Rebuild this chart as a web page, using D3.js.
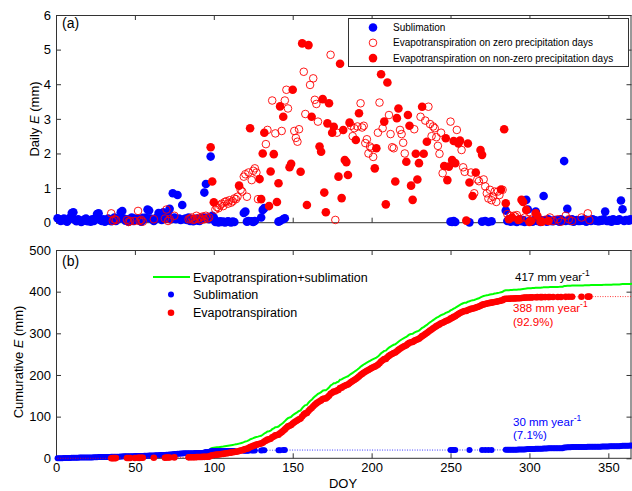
<!DOCTYPE html>
<meta charset="utf-8">
<html>
<head>
<style>
  body { margin: 0; background: #fff; }
  svg text { font-family: "Liberation Sans", Arial, sans-serif; }
  .domain { display: none; }
</style>
<script src="https://d3js.org/d3.v7.min.js"></script>
</head>
<body>
<svg width="632" height="491"></svg>
<script>

// daily sublimation, [DOY, mm]
var sublimation = [
  [1,.13],[2,.10],[3,.05],[4,.08],[5,.12],[6,.06],[7,.03],[8,.10],[9,.15],[10,.28],
  [11,.30],[12,.08],[13,.04],[14,.10],[15,.06],[16,.02],[17,.05],[18,.09],[19,.12],[20,.04],
  [21,.07],[22,.03],[23,.10],[24,.05],[25,.12],[26,.25],[27,.27],[28,.08],[29,.05],[30,.10],
  [31,.03],[32,.06],[33,.12],[34,.08],[35,.04],[36,.10],[37,.15],[38,.05],[39,.10],[40,.12],
  [41,.30],[42,.34],[43,.12],[44,.06],[45,.10],[46,.03],[47,.08],[48,.15],[49,.05],[50,.12],
  [51,.09],[52,.12],[53,.06],[54,.03],[55,.14],[56,.10],[57,.15],[58,.38],[59,.35],[60,.12],
  [61,.10],[62,.05],[63,.12],[64,.15],[65,.28],[66,.15],[67,.08],[68,.30],[69,.12],[70,.12],
  [71,.30],[72,.40],[73,.10],[74,.85],[75,.15],[76,.10],[77,.80],[78,.12],[79,.08],[80,.51],
  [81,.10],[82,.12],[83,.08],[84,.15],[85,.05],[86,.10],[87,.04],[88,.08],[89,.12],[90,.06],
  [91,.05],[92,.10],[93,.15],[94,.87],[95,1.12],[96,.15],[97,.10],[98,1.91],[99,.20],[100,.15],
  [101,.02],[102,.03],[103,.01],[104,.04],[105,.02],[106,.03],[107,.01],[108,.02],[109,.04],
  [110,.02],[111,.01],[112,.03],[113,.02],
  [119,.28],[120,.32],[121,.03],[122,.05],[124,.04],[125,.02],[126,.05],[130,.15],[131,.37],
  [132,.42],[141,.03],[142,.05],[144,.10],[145,.13],
  [250,.03],[251,.02],[252,.05],[253,.02],[262,.01],[270,.03],[272,.05],[274,.02],[276,.04],
  [285,.35],[286,.05],[287,.10],[288,.03],[289,.06],[290,.04],[291,.08],[292,.02],[293,.05],
  [294,.10],[295,.04],[296,.08],[297,.02],[298,.66],[299,.38],[300,.05],
  [301,.05],[302,.03],[303,.08],[304,.32],[305,.05],[306,.10],[307,.02],[308,.06],[309,.77],[310,.08],
  [311,.03],[312,.10],[313,.05],[314,.05],[315,.04],[316,.08],[317,.06],[318,.06],[319,.03],[320,.10],
  [321,.05],[322,1.78],[323,.05],[324,.40],[325,.08],[326,.05],[327,.10],[328,.03],[329,.06],[330,.08],
  [331,.05],[332,.05],[333,.08],[334,.06],[335,.10],[336,.03],[337,.08],[338,.06],[339,.05],[340,.10],
  [341,.08],[342,.06],[343,.05],[344,.04],[345,.08],[346,.06],[347,.10],[348,.32],[349,.05],[350,.05],
  [351,.08],[352,.03],[353,.10],[354,.08],[355,.06],[356,.06],[357,.10],[358,.64],[359,.39],[360,.05],
  [361,.08],[362,.08],[363,.06],[364,.10],[365,.08]
];

// evapotranspiration on zero precipitation days (open circles)
var etDry = [
  [35,.27],[36,.05],[37,.10],[38,.08],[45,.08],[46,.02],[47,.05],[50,.05],[52,.34],[53,.05],
  [54,.08],[55,.03],[62,.10],[69,.12],[70,.38],[71,.05],[72,.10],[75,.20],[84,.10],[85,.12],
  [86,.15],[87,.08],[88,.10],[89,.20],[90,.12],[91,.15],[92,.08],[93,.18],[94,.10],[95,.20],
  [96,.12],[97,.15],
  [101,.38],[102,.45],[103,.42],[104,.50],[105,.55],[106,.48],[107,.60],[108,.62],[109,.55],
  [110,.65],[111,.58],[112,.62],[113,.70],[114,.68],[115,.75],
  [117,.95],[118,.90],[119,1.33],[120,1.40],[121,.75],[122,1.45],[124,1.23],[125,1.50],
  [126,1.57],[127,1.45],[128,.68],
  [133,2.27],[134,2.68],[137,3.53],[139,2.58],[143,2.65],[145,3.53],[146,3.84],[147,3.30],
  [151,2.65],[152,2.45],[153,2.34],[154,2.70],[157,4.36],[158,3.14],[161,3.98],[163,4.17],
  [164,3.55],[165,3.43],[166,2.92],
  [174,4.85],[177,.08],[178,2.60],[187,2.80],[188,2.50],[189,2.73],[191,2.78],[193,3.45],
  [194,2.75],[195,2.80],[196,2.30],[197,2.41],[198,2.00],[199,2.20],[200,2.15],[201,1.90],
  [204,2.60],[205,3.47],[207,2.73],[211,3.11],[212,2.56],[213,2.18],[214,2.15],[218,2.68],
  [219,2.56],[220,2.31],[221,2.00],[227,2.70],
  [231,3.06],[234,2.95],[236,3.35],[237,2.85],[238,2.50],[239,2.78],[240,2.73],[241,2.47],
  [242,2.22],[243,1.99],[244,2.60],[245,1.43],[250,2.92],
  [254,2.68],[257,2.10],[258,1.60],[259,1.47],[263,1.45],[265,.85],[267,1.25],[268,1.20],
  [271,1.25],[272,1.05],[273,.85],[274,.70],[275,.95],[276,.65],[277,.75],[278,.90],[279,.60],
  [280,.90],[281,.80],[283,.95],
  [286,.25],[288,.20],[290,.20],[291,.18],[292,.22],[294,.10],[297,.15],[299,.10],[302,.12],
  [310,.08],[313,.15],[315,.05],[318,.10],[320,.03],[323,.20],[325,.10],[327,.05],[333,.15],
  [337,.27],[338,.08]
];

// evapotranspiration on non-zero precipitation days (filled)
var etWet = [
  [98,2.18],[99,1.19],[100,.59],[116,1.07],[123,2.73],[129,1.26],[130,.68],[131,2.00],[132,2.60],
  [135,.48],[136,1.48],[138,1.98],[140,.60],[141,1.14],[142,3.36],[144,3.06],[148,1.60],[149,1.70],
  [150,3.84],[155,1.47],[156,5.18],[159,.51],[160,5.13],[162,3.06],[167,2.20],[168,2.05],[169,3.57],
  [170,.87],[171,.30],[172,2.87],[173,3.45],[175,2.60],[176,2.77],[179,1.33],[180,4.59],[181,.71],
  [182,2.68],[183,1.81],[184,1.75],[185,1.38],[186,2.89],[190,2.39],[192,3.16],[202,1.57],[203,2.15],
  [206,4.29],[208,2.92],[209,.53],[210,4.05],[215,1.19],[216,3.02],[217,3.30],[222,1.76],[223,3.11],
  [224,2.80],[225,1.07],[226,.66],[228,1.99],[229,1.25],[230,1.72],[232,3.35],[233,1.99],[235,2.34],
  [246,1.64],[247,2.44],[248,1.23],[249,1.62],[251,1.81],[252,2.36],[253,1.72],[255,2.29],[256,2.37],
  [260,.06],[261,2.29],[262,1.16],[264,.77],[266,1.45],[269,2.10],[270,1.96],[282,.96],[284,2.70],
  [285,.56],[287,.10],[289,.15],[293,.08],[295,.66],[296,.60],[298,.37],[300,.02],[301,.05],
  [304,.27],[305,.20],[307,.03],[308,.03],[312,.05]
];

var xTicks = [0, 50, 100, 150, 200, 250, 300, 350];
var yTicksA = [0, 1, 2, 3, 4, 5, 6];
var yTicksB = [0, 100, 200, 300, 400, 500];
var legendA = ["Sublimation", "Evapotranspiration on zero precipitation days",
               "Evapotranspiration on non-zero precipitation days"];
var legendB = ["Evapotranspiration+sublimation", "Sublimation", "Evapotranspiration"];
var annualLabels = ["417 mm year", "388 mm year", "30 mm year"];
var shareLabels = ["(92.9%)", "(7.1%)"];

var svg = d3.select("svg");
var frameColor = "#333";

var x = d3.scaleLinear().domain([0, 365]).range([56, 632]);
var yA = d3.scaleLinear().domain([0, 6]).range([222.7, 15]);
var yB = d3.scaleLinear().domain([0, 500]).range([458.3, 250]);

// cumulative sums, day by day
var subMap = new Map(sublimation);
var etMap = new Map(etDry.concat(etWet));
var cumSub = [], cumEt = [], cumAll = [];
var s = 0, e = 0;
d3.range(1, 366).forEach(function(d) {
    s += subMap.get(d) || 0;
    e += etMap.get(d) || 0;
    cumSub.push([d, s]);
    cumEt.push([d, e]);
    cumAll.push([d, s + e]);
});
var etDays = etDry.concat(etWet).map(function(p) { return p[0]; }).sort(d3.ascending);

function drawFrame(y, ticksY, showX) {
    var top = y.range()[1], bottom = y.range()[0];
    var g = svg.append("g").attr("class", "axes");

    g.append("g")
        .attr("transform", "translate(0," + bottom + ")")
        .call(d3.axisBottom(x).tickValues(xTicks).tickSizeInner(-5).tickSizeOuter(0).tickPadding(4)
              .tickFormat(showX ? d3.format("d") : ""));
    g.append("g")
        .attr("transform", "translate(0," + top + ")")
        .call(d3.axisTop(x).tickValues(xTicks).tickSizeInner(-5).tickSizeOuter(0).tickFormat(""));
    g.append("g")
        .attr("transform", "translate(" + x.range()[0] + ",0)")
        .call(d3.axisLeft(y).tickValues(ticksY).tickSizeInner(-5).tickSizeOuter(0).tickPadding(5)
              .tickFormat(d3.format("d")));
    g.append("g")
        .attr("transform", "translate(" + (x.range()[1] - 0.5) + ",0)")
        .call(d3.axisRight(y).tickValues(ticksY).tickSizeInner(-5).tickSizeOuter(0).tickFormat(""));

    g.selectAll(".tick line").attr("stroke", frameColor);
    g.selectAll(".tick text").attr("font-size", 13).attr("fill", "#000");

    g.append("rect")
        .attr("x", x.range()[0] + 0.5).attr("y", top + 0.5)
        .attr("width", x.range()[1] - x.range()[0] - 1.5)
        .attr("height", bottom - top - 0.5)
        .attr("fill", "none").attr("stroke", frameColor);
}

drawFrame(yA, yTicksA, false);
drawFrame(yB, yTicksB, true);

// ---- panel (a) ----
var pa = svg.append("g");
pa.append("g").selectAll("circle")
    .data(sublimation).enter().append("circle")
    .attr("cx", function(d) { return x(d[0]); })
    .attr("cy", function(d) { return yA(d[1]); })
    .attr("r", 4.3).attr("fill", "#0000ff");
pa.append("g").selectAll("circle")
    .data(etDry).enter().append("circle")
    .attr("cx", function(d) { return x(d[0]); })
    .attr("cy", function(d) { return yA(d[1]); })
    .attr("r", 3.8).attr("fill", "none").attr("stroke", "#ff0000").attr("stroke-width", 0.9);
pa.append("g").selectAll("circle")
    .data(etWet).enter().append("circle")
    .attr("cx", function(d) { return x(d[0]); })
    .attr("cy", function(d) { return yA(d[1]); })
    .attr("r", 4.3).attr("fill", "#ff0000");

svg.append("text").attr("x", 62).attr("y", 28).attr("font-size", 14).text("(a)");

// legend (a)
var lg = svg.append("g");
lg.append("rect").attr("x", 348.5).attr("y", 18.5).attr("width", 280).attr("height", 48)
    .attr("fill", "#fff").attr("stroke", frameColor);
legendA.forEach(function(t, i) {
    var cy = 27.5 + i * 15.3;
    var c = lg.append("circle").attr("cx", 373).attr("cy", cy);
    if (i === 1) c.attr("r", 3.8).attr("fill", "none").attr("stroke", "#ff0000").attr("stroke-width", 0.9);
    else c.attr("r", 4.3).attr("fill", i === 0 ? "#0000ff" : "#ff0000");
    lg.append("text").attr("x", 393).attr("y", cy + 3.6).attr("font-size", 10).text(t);
});

// ---- panel (b) ----
var line = d3.line()
    .x(function(d) { return x(d[0]); })
    .y(function(d) { return yB(d[1]); });

var pb = svg.append("g");
pb.append("path").datum(cumAll).attr("d", line)
    .attr("fill", "none").attr("stroke", "#00ff00").attr("stroke-width", 2);
pb.append("path").datum(cumSub).attr("d", line)
    .attr("fill", "none").attr("stroke", "#0000ff").attr("stroke-width", 0.8)
    .attr("stroke-dasharray", "1,1.5");
pb.append("g").selectAll("circle")
    .data(sublimation.map(function(p) { return cumSub[p[0] - 1]; }))
    .enter().append("circle")
    .attr("cx", function(d) { return x(d[0]); })
    .attr("cy", function(d) { return yB(d[1]); })
    .attr("r", 3).attr("fill", "#0000ff");
pb.append("path").datum(cumEt).attr("d", line)
    .attr("fill", "none").attr("stroke", "#ff0000").attr("stroke-width", 0.8)
    .attr("stroke-dasharray", "1,1.5");
pb.append("g").selectAll("circle")
    .data(etDays.map(function(d) { return cumEt[d - 1]; }))
    .enter().append("circle")
    .attr("cx", function(d) { return x(d[0]); })
    .attr("cy", function(d) { return yB(d[1]); })
    .attr("r", 3.3).attr("fill", "#ff0000");

svg.append("text").attr("x", 62).attr("y", 266).attr("font-size", 14).text("(b)");

// legend (b), no box
var lb = svg.append("g");
lb.append("line").attr("x1", 153).attr("x2", 190).attr("y1", 277).attr("y2", 277)
    .attr("stroke", "#00ff00").attr("stroke-width", 2);
lb.append("circle").attr("cx", 171).attr("cy", 294.5).attr("r", 3).attr("fill", "#0000ff");
lb.append("circle").attr("cx", 171).attr("cy", 312.7).attr("r", 3.3).attr("fill", "#ff0000");
legendB.forEach(function(t, i) {
    lb.append("text").attr("x", 193).attr("y", [281.5, 299, 317][i]).attr("font-size", 12.5).text(t);
});

// annual totals
var notes = [
    {t: annualLabels[0], c: "#000", x: 515, y: 281},
    {t: annualLabels[1], c: "#ff0000", x: 513, y: 312},
    {t: annualLabels[2], c: "#0000ff", x: 513, y: 425.5}
];
notes.forEach(function(n) {
    var tx = svg.append("text").attr("x", n.x).attr("y", n.y).attr("font-size", 11.5).attr("fill", n.c);
    tx.append("tspan").text(n.t);
    tx.append("tspan").attr("dy", -5).attr("font-size", 8.5).text("-1");
});
svg.append("text").attr("x", 513).attr("y", 325.5).attr("font-size", 11.5).attr("fill", "#ff0000").text(shareLabels[0]);
svg.append("text").attr("x", 513).attr("y", 438.5).attr("font-size", 11.5).attr("fill", "#0000ff").text(shareLabels[1]);

// axis titles
var ta = svg.append("text").attr("transform", "translate(39,119) rotate(-90)")
    .attr("text-anchor", "middle").attr("font-size", 13);
ta.append("tspan").text("Daily ");
ta.append("tspan").attr("font-style", "italic").text("E");
ta.append("tspan").text(" (mm)");

var tb = svg.append("text").attr("transform", "translate(23,362) rotate(-90)")
    .attr("text-anchor", "middle").attr("font-size", 13);
tb.append("tspan").text("Cumurative ");
tb.append("tspan").attr("font-style", "italic").text("E");
tb.append("tspan").text(" (mm)");

svg.append("text").attr("x", 343).attr("y", 488).attr("text-anchor", "middle")
    .attr("font-size", 13).text("DOY");

</script>
</body>
</html>
